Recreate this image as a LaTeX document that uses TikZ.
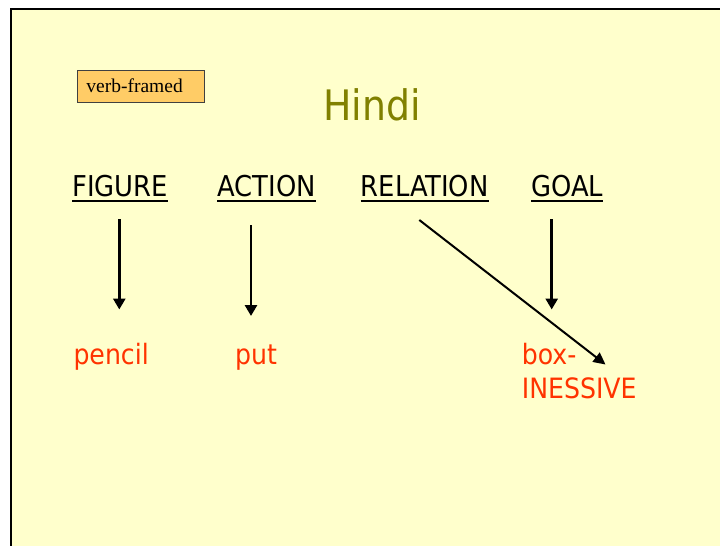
\documentclass[tikz,border=0pt]{standalone}
\usepackage{fontspec}
\setmainfont{DejaVu Sans Condensed}
\newfontfamily\tagfont{Liberation Serif}
\usetikzlibrary{arrows.meta}
\definecolor{bg}{HTML}{FFFFCC}
\definecolor{tagfill}{HTML}{FFCC66}
\definecolor{tagline}{HTML}{404040}
\definecolor{redtext}{HTML}{FF3300}
\definecolor{olive}{HTML}{808000}
\tikzset{
  tagbox/.style={draw=tagline, fill=tagfill, line width=0.9pt, inner ysep=0pt, inner xsep=8.7pt,
    text width=109pt, minimum height=32pt, align=left, font=\tagfont\fontsize{19.5}{22}\selectfont},
  lab/.style={inner sep=0pt, anchor=base west, font=\fontsize{28.7}{33}\selectfont},
  word/.style={inner sep=0pt, text=redtext, font=\fontsize{28}{33.3}\selectfont},
  ul/.style={line width=2.2pt},
  arr/.style={line width=2.9pt, -{Triangle[length=11pt,width=12pt]}},
  darr/.style={line width=2pt, -{Triangle[length=12pt,width=11.5pt]}}
}
\begin{document}
\begin{tikzpicture}[x=1pt,y=-1pt]
\useasboundingbox (0,0) rectangle (720,546);
\clip (0,0) rectangle (720,546);
\fill[white] (0,0) rectangle (720,546);
\filldraw[fill=bg, draw=black, line width=2pt] (11,9) rectangle (760,580);

\node[tagbox, anchor=north west] (tag) at (77.3,69.7) {verb-framed};
\node[inner sep=0pt, anchor=base west, text=olive, font=\fontsize{42}{50}\selectfont] (title) at (323,120) {Hindi};

\node[lab] (fig) at (72.3,196.5) {FIGURE};
\node[lab] (act) at (217.3,196.5) {ACTION};
\node[lab] (rel) at (360.7,196.5) {RELATION};
\node[lab] (goal) at (531,196.5) {GOAL};
\foreach \n in {fig,act,rel,goal}
  \draw[ul] ([yshift=-4.8pt]\n.base west) -- ([yshift=-4.8pt]\n.base east);

\node[word, anchor=base west] (pencil) at (73.3,364) {pencil};
\node[word, anchor=base west] (put) at (235,364) {put};
\node[word, anchor=north west, align=left] (box) at (521.7,343.5) {box-\\INESSIVE};

\coordinate (figA) at (119.3,219);
\coordinate (figB) at (119.3,309.5);
\coordinate (actA) at (251,225);
\coordinate (actB) at (251,316);
\coordinate (goalA) at (551.7,219);
\coordinate (goalB) at (551.7,309.5);
\coordinate (relA) at (419.3,220);
\coordinate (relB) at (605.5,364.5);
\draw[arr] (figA) -- (figB);
\draw[arr] (actA) -- (actB);
\draw[arr] (goalA) -- (goalB);
\draw[darr] (relA) -- (relB);
\end{tikzpicture}
\end{document}
